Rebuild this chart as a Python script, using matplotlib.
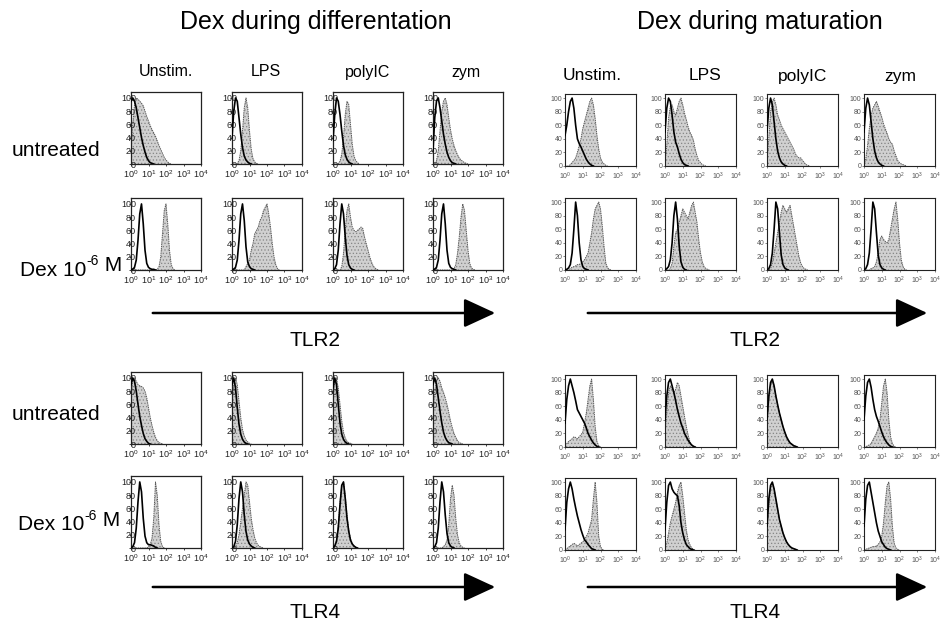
import numpy as np
import matplotlib
matplotlib.use('Agg')
import matplotlib.pyplot as plt
from matplotlib.ticker import FixedLocator, NullLocator
from matplotlib.patches import FancyArrowPatch

plt.rcParams['font.family'] = ['Liberation Sans', 'DejaVu Sans']
plt.rcParams['mathtext.default'] = 'regular'
plt.rcParams['hatch.linewidth'] = 0.5

# ---------------- text / categories ----------------
block_titles = ['Dex during differentation', 'Dex during maturation']
stimuli = ['Unstim.', 'LPS', 'polyIC', 'zym']
treatments = ['untreated', ('Dex 10', '-6', ' M')]
receptors = ['TLR2', 'TLR4']
y_ticks = [0, 20, 40, 60, 80, 100]
x_ticks = [1, 10, 100, 1000, 10000]
bin_step = 0.1   # histogram channel width in log10 decades, first channel = 10^0

# ---------------- histogram values (% of max, one list per stimulus) ----------------
# Dex during differentiation, TLR2
diff_tlr2_untr_open = [
    [95, 100, 95, 85, 70, 55, 40, 28, 18, 10, 5, 2, 1, 0],
    [40, 80, 100, 95, 70, 45, 25, 12, 6, 3, 1, 0],
    [35, 75, 100, 95, 75, 50, 28, 14, 7, 3, 1, 0],
    [20, 70, 95, 100, 85, 65, 45, 30, 18, 10, 5, 2, 1, 0],
]
diff_tlr2_untr_fill = [
    [20, 60, 90, 100, 98, 95, 92, 88, 80, 72, 65, 58, 52, 47, 42, 35, 28, 22, 16, 10, 6, 3, 1, 0],
    [0, 0, 0, 1, 5, 20, 50, 85, 100, 85, 50, 22, 8, 3, 1, 0],
    [0, 0, 0, 1, 4, 15, 40, 75, 95, 90, 60, 30, 12, 5, 2, 0],
    [0, 0, 5, 20, 50, 80, 95, 100, 90, 70, 52, 38, 28, 20, 14, 9, 6, 4, 2, 1, 0],
]
diff_tlr2_dex_open = [
    [0, 1, 4, 15, 45, 85, 100, 70, 30, 10, 4, 2, 1, 1, 0],
    [0, 1, 4, 15, 45, 85, 100, 75, 35, 12, 5, 2, 1, 0],
    [0, 2, 8, 30, 70, 100, 85, 50, 22, 8, 3, 1, 0],
    [0, 1, 4, 15, 45, 85, 100, 70, 30, 10, 4, 2, 1, 0],
]
diff_tlr2_dex_fill = [
    [0, 0, 0, 0, 0, 0, 0, 0, 0, 0, 0, 0, 0, 0, 0, 1, 5, 20, 55, 90, 100, 70, 30, 8, 2, 0],
    [0, 0, 0, 0, 0, 0, 0, 0, 5, 10, 15, 30, 40, 55, 60, 65, 75, 80, 90, 95, 100, 85, 65, 40, 20, 8, 2, 0],
    [0, 0, 0, 0, 0, 5, 25, 60, 90, 100, 80, 65, 60, 58, 60, 62, 65, 63, 50, 40, 30, 20, 12, 6, 3, 1, 0],
    [0, 0, 0, 0, 0, 0, 0, 0, 0, 0, 0, 0, 2, 8, 25, 50, 80, 100, 90, 60, 30, 10, 3, 1, 0],
]
# Dex during differentiation, TLR4
diff_tlr4_untr_open = [
    [90, 100, 95, 80, 60, 42, 28, 16, 8, 4, 1, 0],
    [90, 100, 85, 55, 30, 15, 7, 3, 1, 0],
    [85, 100, 90, 60, 32, 15, 7, 3, 1, 0],
    [90, 100, 90, 70, 50, 32, 18, 10, 5, 2, 1, 0],
]
diff_tlr4_untr_fill = [
    [70, 95, 100, 95, 90, 88, 87, 85, 80, 70, 55, 40, 28, 18, 10, 5, 2, 1, 0],
    [60, 90, 100, 90, 65, 40, 22, 12, 6, 3, 1, 0],
    [65, 95, 100, 85, 60, 35, 18, 9, 4, 2, 1, 0],
    [50, 80, 95, 100, 95, 85, 78, 70, 60, 48, 35, 25, 16, 10, 5, 2, 1, 0],
]
diff_tlr4_dex_open = [
    [0, 2, 8, 30, 70, 100, 85, 45, 18, 8, 5, 5, 4, 3, 1, 0],
    [0, 2, 10, 35, 75, 100, 85, 50, 25, 12, 6, 3, 1, 0],
    [0, 3, 10, 30, 65, 95, 100, 75, 45, 25, 12, 6, 3, 1, 0],
    [0, 2, 8, 30, 70, 100, 85, 50, 22, 8, 3, 1, 0],
]
diff_tlr4_dex_fill = [
    [0, 0, 0, 0, 0, 0, 0, 0, 0, 0, 2, 5, 15, 45, 100, 80, 35, 10, 2, 0],
    [0, 0, 2, 8, 20, 40, 60, 80, 100, 95, 70, 45, 28, 15, 8, 4, 2, 1, 0],
    [0, 4, 12, 35, 70, 95, 100, 80, 50, 28, 14, 7, 3, 1, 0],
    [0, 0, 0, 0, 0, 0, 2, 5, 12, 35, 75, 95, 80, 45, 20, 8, 3, 1, 0],
]
# Dex during maturation, TLR2
mat_tlr2_untr_open = [
    [45, 60, 80, 95, 100, 85, 60, 40, 33, 28, 22, 16, 10, 6, 3, 1, 0],
    [50, 85, 100, 95, 75, 50, 35, 28, 18, 10, 5, 2, 1, 0],
    [50, 85, 100, 90, 65, 40, 22, 12, 6, 3, 1, 0],
    [50, 85, 100, 90, 65, 40, 22, 12, 6, 3, 1, 0],
]
mat_tlr2_untr_fill = [
    [0, 0, 0, 2, 5, 8, 12, 20, 30, 40, 55, 65, 75, 85, 95, 100, 90, 70, 45, 25, 12, 6, 3, 1, 0],
    [5, 30, 70, 88, 90, 80, 75, 85, 95, 100, 90, 78, 68, 58, 50, 45, 38, 25, 15, 8, 5, 2, 1, 0],
    [5, 40, 80, 95, 100, 90, 75, 68, 60, 55, 50, 45, 40, 35, 30, 25, 18, 14, 12, 12, 8, 5, 2, 1, 0],
    [2, 10, 30, 55, 75, 85, 90, 95, 88, 80, 72, 62, 55, 48, 40, 35, 32, 22, 15, 8, 5, 3, 2, 1, 0],
]
mat_tlr2_dex_open = [
    [0, 1, 3, 8, 25, 60, 100, 80, 40, 15, 5, 2, 1, 0],
    [0, 2, 5, 15, 40, 80, 100, 75, 35, 12, 4, 1, 0],
    [0, 2, 8, 25, 60, 100, 90, 55, 22, 8, 3, 1, 0],
    [0, 2, 8, 25, 60, 100, 90, 55, 22, 8, 3, 1, 0],
]
mat_tlr2_dex_fill = [
    [0, 0, 0, 2, 4, 5, 6, 8, 8, 10, 12, 15, 20, 25, 40, 55, 75, 90, 95, 100, 90, 65, 35, 10, 3, 1, 0],
    [0, 0, 0, 2, 10, 35, 55, 60, 70, 80, 90, 85, 80, 75, 85, 95, 100, 85, 70, 45, 25, 12, 5, 2, 1, 0],
    [0, 0, 2, 10, 25, 40, 55, 70, 85, 95, 90, 85, 90, 95, 80, 65, 50, 35, 20, 10, 5, 2, 1, 0],
    [0, 0, 0, 0, 2, 3, 5, 12, 25, 45, 50, 45, 42, 40, 45, 60, 75, 90, 100, 75, 40, 15, 5, 1, 0],
]
# Dex during maturation, TLR4
mat_tlr4_untr_open = [
    [35, 70, 90, 100, 90, 80, 68, 55, 50, 45, 40, 35, 28, 20, 15, 10, 6, 3, 1, 0],
    [40, 75, 95, 100, 90, 80, 68, 55, 45, 35, 28, 20, 15, 10, 6, 3, 1, 0],
    [40, 75, 95, 100, 90, 75, 62, 50, 40, 30, 22, 15, 10, 6, 4, 2, 1, 0],
    [40, 75, 95, 100, 88, 70, 55, 45, 38, 30, 22, 15, 10, 6, 3, 1, 0],
]
mat_tlr4_untr_fill = [
    [2, 5, 8, 10, 12, 15, 14, 12, 15, 18, 22, 35, 50, 70, 90, 100, 70, 30, 8, 2, 0],
    [20, 50, 80, 90, 85, 80, 85, 95, 90, 75, 60, 45, 30, 18, 8, 3, 1, 0],
    [35, 70, 90, 98, 90, 75, 62, 50, 40, 30, 22, 15, 10, 6, 4, 2, 1, 0],
    [0, 0, 2, 3, 5, 10, 15, 20, 28, 40, 65, 90, 100, 80, 40, 15, 5, 1, 0],
]
mat_tlr4_dex_open = [
    [30, 70, 90, 100, 90, 75, 62, 50, 40, 30, 22, 15, 12, 8, 5, 2, 1, 0],
    [30, 70, 95, 100, 90, 85, 82, 80, 65, 40, 25, 15, 8, 5, 2, 1, 0],
    [35, 75, 95, 100, 90, 75, 60, 45, 35, 25, 18, 12, 8, 5, 3, 2, 1, 0],
    [35, 75, 95, 100, 85, 70, 55, 40, 28, 20, 12, 8, 4, 2, 1, 0],
]
mat_tlr4_dex_fill = [
    [0, 2, 4, 6, 8, 10, 8, 6, 8, 10, 12, 15, 20, 25, 35, 45, 75, 100, 70, 20, 5, 1, 0],
    [5, 10, 25, 40, 50, 60, 70, 85, 95, 100, 80, 55, 30, 15, 8, 3, 1, 0],
    [30, 65, 90, 98, 90, 75, 60, 45, 35, 25, 18, 12, 8, 5, 3, 2, 1, 0],
    [0, 1, 2, 3, 4, 5, 5, 6, 8, 12, 20, 40, 70, 95, 100, 75, 35, 10, 3, 1, 0],
]

data = {
    (0, 0, 0): (diff_tlr2_untr_open, diff_tlr2_untr_fill),
    (0, 0, 1): (diff_tlr2_dex_open, diff_tlr2_dex_fill),
    (0, 1, 0): (diff_tlr4_untr_open, diff_tlr4_untr_fill),
    (0, 1, 1): (diff_tlr4_dex_open, diff_tlr4_dex_fill),
    (1, 0, 0): (mat_tlr2_untr_open, mat_tlr2_untr_fill),
    (1, 0, 1): (mat_tlr2_dex_open, mat_tlr2_dex_fill),
    (1, 1, 0): (mat_tlr4_untr_open, mat_tlr4_untr_fill),
    (1, 1, 1): (mat_tlr4_dex_open, mat_tlr4_dex_fill),
}

# ---------------- layout (figure pixels) ----------------
W, H = 940, 623
fig = plt.figure(figsize=(W / 100, H / 100), dpi=100)

col_left = [[131, 232, 333, 433], [565, 665, 767, 864]]
panel_w = [70, 71]
row_top = [[[92, 198], [372, 476]], [[94, 198], [375, 478]]]
panel_h = 72
ytop = [109, 106]


def fpos(x, y):
    return x / W, 1 - y / H


def chan(vals):
    return 10 ** (np.arange(len(vals)) * bin_step)


for (b, r, t), (opens, fills) in data.items():
    for s in range(4):
        x0 = col_left[b][s]
        y0 = row_top[b][r][t]
        ax = fig.add_axes([x0 / W, 1 - (y0 + panel_h) / H, panel_w[b] / W, panel_h / H])
        fv = fills[s]
        ov = opens[s]
        xf = chan(fv)
        xo = chan(ov)
        ax.fill_between(xf, 0, fv, facecolor='#d0d0d0', edgecolor='#858585',
                        hatch='.....', linewidth=0, zorder=1)
        ax.plot(xf, fv, color='#5a5a5a', lw=0.7, ls=(0, (1.5, 0.8)), zorder=2)
        ax.plot(xo, ov, color='black', lw=1.2, zorder=3)
        ax.set_xscale('log')
        ax.set_xlim(1, 10 ** 4)
        ax.set_ylim(0, ytop[b])
        ax.xaxis.set_major_locator(FixedLocator(x_ticks))
        ax.xaxis.set_minor_locator(NullLocator())
        ax.yaxis.set_major_locator(FixedLocator(y_ticks))
        for sp in ax.spines.values():
            sp.set_linewidth(0.9 if b == 0 else 0.8)
            sp.set_color('#222222')
        if b == 0:
            ax.tick_params(axis='both', length=1.5, width=0.6, labelsize=6.5, colors='#222222')
            ax.tick_params(axis='y', pad=-5)
            ax.tick_params(axis='x', pad=1.5)
        else:
            ax.tick_params(axis='both', length=1.5, width=0.5, labelsize=5, colors='#555555')
            ax.tick_params(axis='y', pad=0.5)
            ax.tick_params(axis='x', pad=2)

# ---------------- texts ----------------
title_x = [316, 760]
for b in range(2):
    fig.text(*fpos(title_x[b], 22), block_titles[b], fontsize=18, ha='center', va='center')

head_x = [[166, 266, 368, 466], [592, 705, 803, 900]]
head_y = [72, 76]
for b in range(2):
    for s in range(4):
        fig.text(*fpos(head_x[b][s], head_y[b]), stimuli[s], fontsize=11.5 if b == 0 else 12.5,
                 ha='center', va='center')

label_pos = {(0, 0): (12, 151), (0, 1): (20, 270), (1, 0): (12, 414), (1, 1): (18, 525)}
for (r, t), (lx, ly) in label_pos.items():
    if t == 0:
        fig.text(*fpos(lx, ly), treatments[t], fontsize=15, ha='left', va='center')
    else:
        base, sup, tail = treatments[t]
        t1 = fig.text(*fpos(lx, ly), base, fontsize=15, ha='left', va='center')
        ann_sup = fig.text(0, 0, '')
        ann_sup.remove()
        ann_sup = plt.annotate(sup, xy=(1.0, 0.95), xycoords=t1, fontsize=10,
                               ha='left', va='center', annotation_clip=False)
        plt.annotate(tail, xy=(1.0, 0.0), xycoords=ann_sup, xytext=(0, -4.5),
                     textcoords='offset points', fontsize=15, ha='left', va='bottom',
                     annotation_clip=False)

arrow_y = [313, 587]
label_y = [340, 612]
arrow_x = [(150, 498), (585, 930)]
label_x = [315, 755]
for r in range(2):
    for b in range(2):
        xa, xb = arrow_x[b]
        fig.add_artist(FancyArrowPatch(
            fpos(xa, arrow_y[r]), fpos(xb, arrow_y[r]), transform=fig.transFigure,
            arrowstyle='-|>,head_length=1.3,head_width=0.6', mutation_scale=15,
            lw=1.8, color='black'))
        fig.text(*fpos(label_x[b], label_y[r]), receptors[r], fontsize=15, ha='center', va='center')

fig.savefig('out.png', dpi=100)
